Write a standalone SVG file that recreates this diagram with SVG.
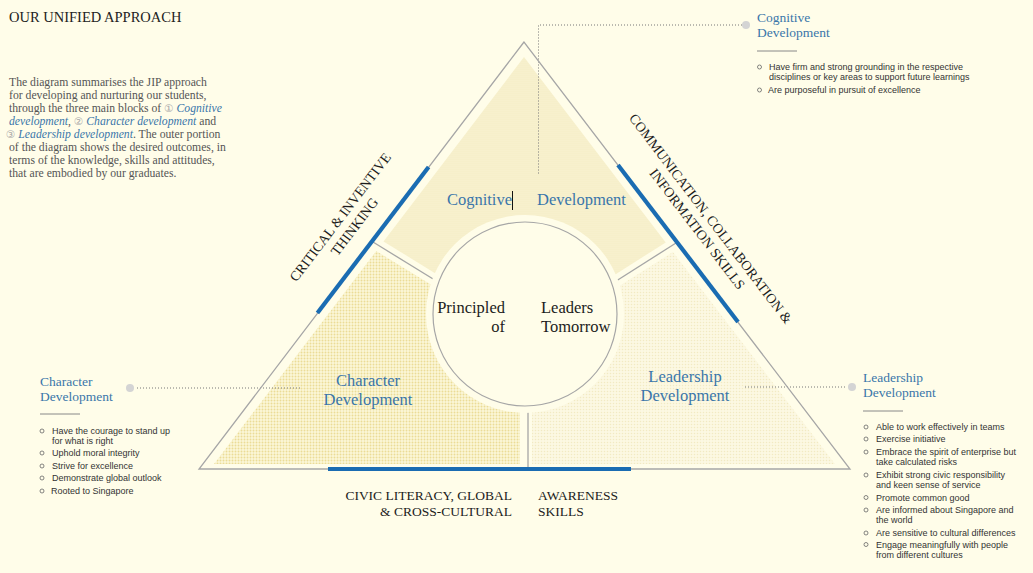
<svg xmlns="http://www.w3.org/2000/svg" width="1033" height="573" viewBox="0 0 1033 573">
<defs>
<style>
.bg{fill:#fffde9}
.serif{font-family:"Liberation Serif","Times New Roman",serif}
.sans{font-family:"Liberation Sans",Arial,sans-serif}
.para{font-size:11.7px;fill:#555}
.em{font-style:italic;fill:#3a76aa}
.num{font-size:10.5px;fill:#aaa;font-family:"DejaVu Sans",sans-serif}
.ttl{font-size:13.5px;fill:#3a76aa}
.lbl{font-size:16.5px;fill:#3a76aa}
.blk{font-size:16.5px;fill:#1c1c1c}
.cap{font-size:13.5px;fill:#1c1c1c}
.rot{font-size:14px;fill:#1c1c1c}
.bul{font-size:9px;fill:#333}
.bc{fill:none;stroke:#666;stroke-width:0.8}
.dot{fill:#d4d4d4}
.dotted{fill:none;stroke:#777;stroke-width:1;stroke-dasharray:1 2}
.rule{stroke:#888;stroke-width:1}
.gray{fill:none;stroke:#a6a6a6;stroke-width:1.3}
.blue{stroke:#1a6cb2;stroke-width:4.2}
.gap{fill:none;stroke:#fffde9;stroke-width:12}
</style>
<pattern id="pTop" width="2" height="2" patternUnits="userSpaceOnUse"><rect width="2" height="2" fill="#f9f3d3"/><circle cx="1" cy="1" r="0.55" fill="#f0e5b2"/></pattern>
<pattern id="pChar" width="3" height="3" patternUnits="userSpaceOnUse"><rect width="3" height="3" fill="#fcf7d8"/><circle cx="1.5" cy="1.5" r="0.95" fill="#ebdc96"/></pattern>
<pattern id="pLead" width="3" height="3" patternUnits="userSpaceOnUse"><rect width="3" height="3" fill="#fcf8e2"/><circle cx="1.5" cy="1.5" r="0.75" fill="#f2eac2"/></pattern>
<clipPath id="inner"><polygon points="524,57 214,464 835,464"/></clipPath>
</defs>
<rect class="bg" x="0" y="0" width="1033" height="573"/>

<g id="intro">
<text class="serif" x="9" y="22" font-size="14.5" fill="#222">OUR UNIFIED APPROACH</text>
<text class="serif para" x="9" y="86">The diagram summarises the JIP approach</text>
<text class="serif para" x="9" y="99">for developing and nurturing our students,</text>
<text class="serif para" x="9" y="112">through the three main blocks of <tspan class="num">①</tspan> <tspan class="em">Cognitive</tspan></text>
<text class="serif para" x="9" y="125"><tspan class="em">development</tspan>, <tspan class="num">②</tspan> <tspan class="em">Character development</tspan> and</text>
<text class="serif para" x="6" y="138"><tspan class="num">③</tspan> <tspan class="em">Leadership development</tspan>. The outer portion</text>
<text class="serif para" x="9" y="151">of the diagram shows the desired outcomes, in</text>
<text class="serif para" x="9" y="164">terms of the knowledge, skills and attitudes,</text>
<text class="serif para" x="9" y="177">that are embodied by our graduates.</text>
</g>

<g id="regions" clip-path="url(#inner)">
<polygon fill="url(#pTop)" points="280,184 438,282 525,314 613,283 769,184 769,0 280,0"/>
<polygon fill="url(#pChar)" points="280,184 438,282 525,314 528,406 528,480 100,480 100,184"/>
<polygon fill="url(#pLead)" points="769,184 613,283 525,314 528,406 528,480 950,480 950,184"/>
</g>

<g id="connectors">
<line class="gap" x1="373" y1="242" x2="438" y2="282"/>
<line class="gap" x1="613" y1="283" x2="676" y2="243"/>
<line class="gap" x1="526" y1="400" x2="526" y2="475"/>
<line class="gray" x1="373" y1="242" x2="438" y2="282"/>
<line class="gray" x1="613" y1="283" x2="676" y2="243"/>
<line class="gray" x1="528" y1="406" x2="528" y2="469"/>
<polyline class="dotted" points="742,25 538.5,25 538.5,175"/>
<line class="dotted" x1="137" y1="388" x2="300" y2="388"/>
<line class="dotted" x1="745" y1="387" x2="846" y2="387"/>
</g>

<g id="frame">
<polygon class="gray" points="524,42 199,469 850,469"/>
<line class="blue" x1="428.6" y1="167" x2="317.4" y2="313"/>
<line class="blue" x1="618" y1="165" x2="738" y2="322"/>
<line class="blue" x1="328" y1="469" x2="631" y2="469"/>
</g>

<g id="node-center">
<circle cx="525" cy="314" r="99" class="bg"/>
<circle cx="525" cy="314" r="92" class="bg" stroke="#a6a6a6" stroke-width="1.2"/>
<text class="serif blk" x="505" y="313" text-anchor="end">Principled</text>
<text class="serif blk" x="505" y="332" text-anchor="end">of</text>
<text class="serif blk" x="541" y="313">Leaders</text>
<text class="serif blk" x="541" y="332">Tomorrow</text>
</g>

<g id="node-cognitive">
<text class="serif lbl" x="512" y="205" text-anchor="end">Cognitive</text>
<line x1="512.5" y1="191" x2="512.5" y2="210" stroke="#111" stroke-width="1"/>
<text class="serif lbl" x="537" y="205">Development</text>
</g>

<g id="node-character">
<text class="serif lbl" x="368" y="386" text-anchor="middle">Character</text>
<text class="serif lbl" x="368" y="405" text-anchor="middle">Development</text>
</g>

<g id="node-leadership">
<text class="serif lbl" x="685" y="382" text-anchor="middle">Leadership</text>
<text class="serif lbl" x="685" y="401" text-anchor="middle">Development</text>
</g>

<g id="skill-critical">
<g transform="translate(344,220) rotate(-52.7)">
<text class="serif rot" x="0" y="0" text-anchor="middle">CRITICAL &amp; INVENTIVE</text>
<text class="serif rot" x="1" y="17" text-anchor="middle">THINKING</text>
</g>
</g>

<g id="skill-communication">
<g transform="translate(707,221.5) rotate(52.7)">
<text class="serif rot" x="0" y="0" text-anchor="middle">COMMUNICATION, COLLABORATION &amp;</text>
<text class="serif rot" x="0" y="17" text-anchor="middle">INFORMATION SKILLS</text>
</g>
</g>

<g id="skill-civic">
<text class="serif cap" x="512" y="500" text-anchor="end">CIVIC LITERACY, GLOBAL</text>
<text class="serif cap" x="512" y="516" text-anchor="end">&amp; CROSS-CULTURAL</text>
<text class="serif cap" x="538" y="500">AWARENESS</text>
<text class="serif cap" x="538" y="516">SKILLS</text>
</g>

<g id="callout-cognitive">
<circle class="dot" cx="746" cy="25" r="4"/>
<text class="serif ttl" x="757" y="22">Cognitive</text>
<text class="serif ttl" x="757" y="37">Development</text>
<line class="rule" x1="757" y1="51" x2="797" y2="51"/>
<circle class="bc" cx="759.5" cy="67" r="2"/>
<text class="sans bul" x="769" y="70">Have firm and strong grounding in the respective</text>
<text class="sans bul" x="769" y="80">disciplines or key areas to support future learnings</text>
<circle class="bc" cx="759.5" cy="90" r="2"/>
<text class="sans bul" x="768" y="93">Are purposeful in pursuit of excellence</text>
</g>

<g id="callout-character">
<circle class="dot" cx="130" cy="388" r="4"/>
<text class="serif ttl" x="40" y="386">Character</text>
<text class="serif ttl" x="40" y="401">Development</text>
<line class="rule" x1="40" y1="414" x2="80" y2="414"/>
<circle class="bc" cx="42" cy="431" r="2"/>
<text class="sans bul" x="52" y="434">Have the courage to stand up</text>
<text class="sans bul" x="52" y="444">for what is right</text>
<circle class="bc" cx="42" cy="453" r="2"/>
<text class="sans bul" x="52" y="456">Uphold moral integrity</text>
<circle class="bc" cx="42" cy="466" r="2"/>
<text class="sans bul" x="52" y="469">Strive for excellence</text>
<circle class="bc" cx="42" cy="478" r="2"/>
<text class="sans bul" x="52" y="481">Demonstrate global outlook</text>
<circle class="bc" cx="42" cy="491" r="2"/>
<text class="sans bul" x="51" y="494">Rooted to Singapore</text>
</g>

<g id="callout-leadership">
<circle class="dot" cx="852" cy="387" r="4"/>
<text class="serif ttl" x="863" y="382">Leadership</text>
<text class="serif ttl" x="863" y="397">Development</text>
<line class="rule" x1="863" y1="411" x2="903" y2="411"/>
<circle class="bc" cx="866" cy="427" r="2"/>
<text class="sans bul" x="876" y="430">Able to work effectively in teams</text>
<circle class="bc" cx="866" cy="439" r="2"/>
<text class="sans bul" x="876" y="442">Exercise initiative</text>
<circle class="bc" cx="866" cy="452" r="2"/>
<text class="sans bul" x="876" y="455">Embrace the spirit of enterprise but</text>
<text class="sans bul" x="876" y="465">take calculated risks</text>
<circle class="bc" cx="866" cy="475" r="2"/>
<text class="sans bul" x="876" y="478">Exhibit strong civic responsibility</text>
<text class="sans bul" x="876" y="488">and keen sense of service</text>
<circle class="bc" cx="866" cy="497.5" r="2"/>
<text class="sans bul" x="876" y="500.5">Promote common good</text>
<circle class="bc" cx="866" cy="510" r="2"/>
<text class="sans bul" x="876" y="513">Are informed about Singapore and</text>
<text class="sans bul" x="876" y="523">the world</text>
<circle class="bc" cx="866" cy="533" r="2"/>
<text class="sans bul" x="876" y="536">Are sensitive to cultural differences</text>
<circle class="bc" cx="866" cy="544.5" r="2"/>
<text class="sans bul" x="876" y="547.5">Engage meaningfully with people</text>
<text class="sans bul" x="876" y="557.5">from different cultures</text>
</g>
</svg>
